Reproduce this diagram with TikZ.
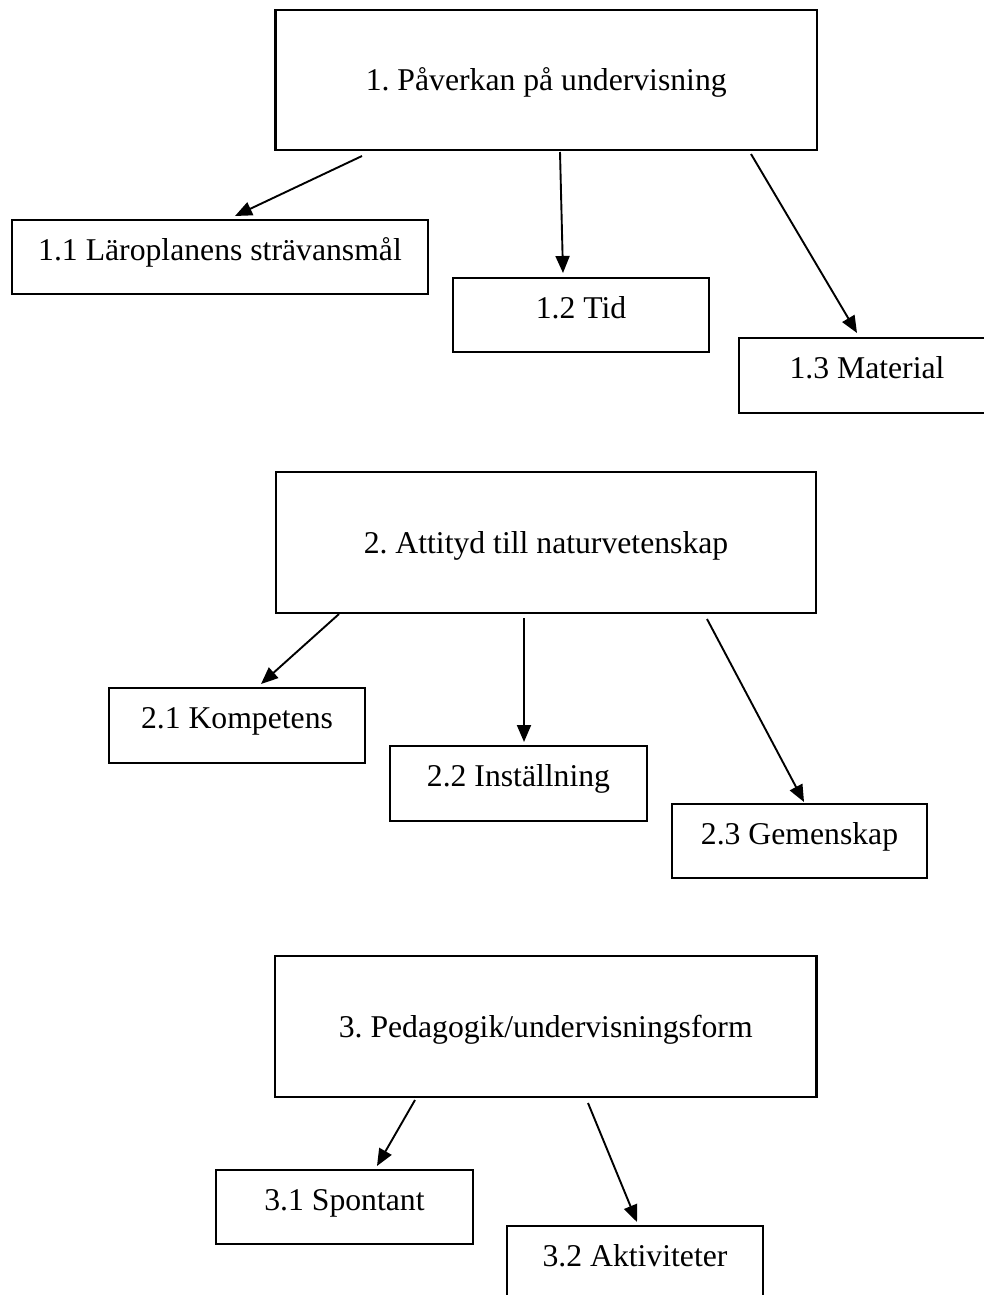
\documentclass[tikz,border=0pt]{standalone}
\usepackage{fontspec}
\setmainfont{Liberation Serif}
\usetikzlibrary{arrows.meta}
\frenchspacing
\begin{document}
\begin{tikzpicture}[x=1pt,y=-1pt,
  bigbox/.style={draw,line width=2.3pt,minimum width=#1,minimum height=140pt,inner sep=0pt,text height=22pt,text depth=0pt},
  smallbox/.style={draw,line width=2.3pt,minimum width=#1,minimum height=74pt,inner sep=0pt,text height=6pt,text depth=0pt},
  conn/.style={line width=1.9pt,-{Triangle[length=17pt,width=14pt]}},
  every node/.style={font=\fontsize{31.7}{38}\selectfont}]
\useasboundingbox (0,0) rectangle (984,1295);
\fill[white] (0,0) rectangle (984,1295);
% group 1
\node[bigbox=541.5pt] (b1) at (546.25,80) {1. Påverkan på undervisning};
\node[smallbox=416pt] (b11) at (220,257) {1.1 Läroplanens strävansmål};
\node[smallbox=256pt] (b12) at (581,315) {1.2 Tid};
\node[smallbox=256pt,minimum height=75pt] (b13) at (867,375.5) {1.3 Material};
\coordinate (s11) at (362,156); \coordinate (t11) at (235,216);
\coordinate (s12) at (560,152); \coordinate (t12) at (563,273);
\coordinate (s13) at (751,154); \coordinate (t13) at (857,333);
\draw[conn] (s11) -- (t11);
\draw[conn] (s12) -- (t12);
\draw[conn] (s13) -- (t13);
% group 2
\node[bigbox=540pt,minimum height=141pt] (b2) at (546,542.5) {2. Attityd till naturvetenskap};
\node[smallbox=256pt,minimum height=75pt] (b21) at (237,725.5) {2.1 Kompetens};
\node[smallbox=257pt,minimum height=75pt] (b22) at (518.5,783.5) {2.2 Inställning};
\node[smallbox=255pt] (b23) at (799.5,841) {2.3 Gemenskap};
\coordinate (s21) at (339,614); \coordinate (t21) at (261,684);
\coordinate (s22) at (524,618); \coordinate (t22) at (524,742);
\coordinate (s23) at (707,619); \coordinate (t23) at (804,802);
\draw[conn] (s21) -- (t21);
\draw[conn] (s22) -- (t22);
\draw[conn] (s23) -- (t23);
% group 3
\node[bigbox=541.5pt,minimum height=141pt] (b3) at (545.75,1026.5) {3. Pedagogik/undervisningsform};
\node[smallbox=257pt] (b31) at (344.5,1207) {3.1 Spontant};
\node[smallbox=256pt] (b32) at (635,1263) {3.2 Aktiviteter};
\coordinate (s31) at (415,1100); \coordinate (t31) at (377,1166);
\coordinate (s32) at (588,1103); \coordinate (t32) at (637,1222);
\draw[conn] (s31) -- (t31);
\draw[conn] (s32) -- (t32);
\end{tikzpicture}
\end{document}
